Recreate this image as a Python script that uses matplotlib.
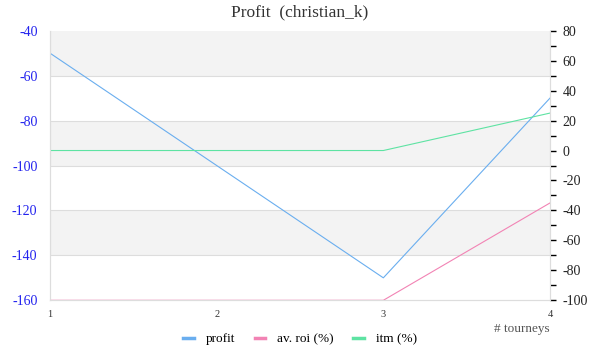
import matplotlib
matplotlib.use('Agg')
import matplotlib.pyplot as plt
from matplotlib.ticker import MultipleLocator
from matplotlib.lines import Line2D

tourneys = [1, 2, 3, 4]
profit = [-50, -100, -150, -70]
avroi = [-100, -100, -100, -35]
itm = [0, 0, 0, 25]

c_profit = '#6aaeef'
c_roi = '#f283b4'
c_itm = '#5ee3a3'
grid_col = '#dddddd'

plt.rcParams['font.family'] = ['Liberation Serif', 'DejaVu Serif']
plt.rcParams['axes.unicode_minus'] = False

fig = plt.figure(figsize=(6, 3.6), dpi=100)
ax = fig.add_axes([50/600, 1-300.3/360, 500/600, (300.3-30.7)/360])

# alternating bands on the left axis
for lo in [-140, -100, -60]:
    ax.axhspan(lo, lo + 20, color='#f3f3f3', zorder=0, lw=0)
for v in range(-140, -40, 20):
    ax.axhline(v, color=grid_col, lw=0.8, zorder=0.5)

ax.plot(tourneys, profit, color=c_profit, lw=0.8)
ax.set_xlim(1, 4)
ax.set_ylim(-160, -40)
ax.set_yticks(range(-160, -39, 20))
ax.set_xticks(tourneys)
ax.tick_params(axis='y', length=0, colors='#2222ee', labelsize=10, pad=9)
ax.tick_params(axis='x', length=0, labelsize=7.5, pad=7, colors='#333333')
ax.spines['top'].set_visible(False)
for s in ['left', 'bottom', 'right']:
    ax.spines[s].set_color(grid_col)

ax2 = ax.twinx()
ax2.plot(tourneys, avroi, color=c_roi, lw=0.8)
ax2.plot(tourneys, itm, color=c_itm, lw=0.8)
ax2.set_ylim(-100, 80)
ax2.set_yticks(range(-100, 81, 20))
ax2.yaxis.set_minor_locator(MultipleLocator(10))
ax2.tick_params(axis='y', which='major', length=4, width=1, colors='black',
                labelsize=10, pad=5)
ax2.tick_params(axis='y', which='minor', length=4, width=1, color='black')
ax2.spines['top'].set_visible(False)
for s in ['left', 'bottom', 'right']:
    ax2.spines[s].set_color(grid_col)
    ax2.spines[s].set_zorder(5)
for lab in ax2.get_yticklabels():
    lab.set_color('#222222')

fig.text(0.5, 1 - 12/360, 'Profit  (christian_k)', ha='center', va='center',
         fontsize=12.5, color='#333333')
fig.text(550/600, 1 - 329/360, '# tourneys', ha='right', va='center',
         fontsize=9.5, color='#555555')

handles = [Line2D([], [], color=c_profit, lw=2.5),
           Line2D([], [], color=c_roi, lw=2.5),
           Line2D([], [], color=c_itm, lw=2.5)]
fig.legend(handles, ['profit', 'av. roi (%)', 'itm (%)'], loc='center',
           bbox_to_anchor=(0.5, 1 - 339/360), ncol=3, frameon=False,
           fontsize=9.5, handlelength=0.8, handletextpad=0.9, columnspacing=1.5)

fig.savefig('out.png', dpi=100)
